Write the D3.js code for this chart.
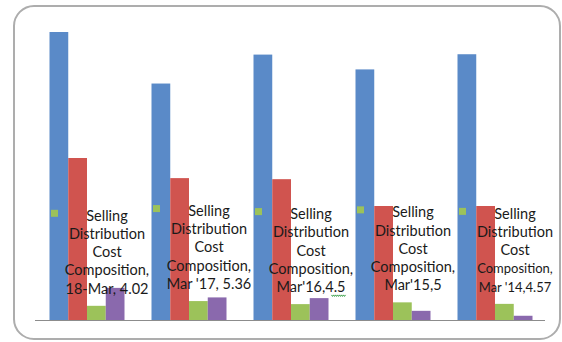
<!DOCTYPE html>
<html>
<head>
<meta charset="utf-8">
<script src="https://cdn.jsdelivr.net/npm/d3@7"></script>
<style>
  html, body { margin: 0; padding: 0; background: #fff; }
  svg { display: block; }
  .lbl { font-family: Lato, "Open Sans", sans-serif; fill: #1a1a1a; }
</style>
</head>
<body>
<svg width="562" height="342"></svg>
<script>
// periods, left to right
const periods = ["18-Mar", "Mar '17", "Mar'16", "Mar'15", "Mar '14"];
const seriesNames = ["Series 1", "Series 2", "Selling Distribution Cost Composition", "Series 4"];

const blueVals   = [81.6, 67.0, 75.2, 71.0, 75.3];
const redVals    = [45.9, 40.2, 39.9, 32.3, 32.3];
const greenVals  = [4.02, 5.36, 4.5, 5, 4.57];
const purpleVals = [9.1, 6.4, 6.2, 2.6, 1.2];

// data label text as shown on the chart
const labelTail = ["18-Mar, 4.02", "Mar '17, 5.36", "Mar'16,4.5", "Mar'15,5", "Mar '14,4.57"];

const colors = ["#5a8ac8", "#d0544f", "#9cc25a", "#8a69ad"];

const svg = d3.select("svg");

// chart frame
svg.append("rect")
  .attr("x", 14).attr("y", 6)
  .attr("width", 546).attr("height", 333)
  .attr("rx", 20).attr("ry", 20)
  .attr("fill", "#fff")
  .attr("stroke", "#adadad")
  .attr("stroke-width", 2);

const plotLeft = 36, plotRight = 546, baseY = 320, topY = 20;

const x0 = d3.scaleBand().domain(periods).range([plotLeft, plotRight]).padding(0);
const x1 = d3.scaleBand().domain(d3.range(4))
  .range([13.5, x0.bandwidth() - 13.5]).padding(0);
const y = d3.scaleLinear().domain([0, 85]).range([baseY, topY]);

const rows = periods.map((p, i) => ({
  period: p,
  vals: [blueVals[i], redVals[i], greenVals[i], purpleVals[i]]
}));

const groups = svg.append("g")
  .selectAll("g")
  .data(rows)
  .join("g")
  .attr("transform", d => `translate(${x0(d.period)},0)`);

groups.selectAll("rect")
  .data(d => d.vals.map((v, k) => ({ v, k })))
  .join("rect")
  .attr("x", d => x1(d.k))
  .attr("y", d => y(d.v))
  .attr("width", x1.bandwidth())
  .attr("height", d => baseY - y(d.v))
  .attr("fill", d => colors[d.k]);

// category axis line
svg.append("line")
  .attr("x1", plotLeft - 1).attr("x2", plotRight - 1)
  .attr("y1", baseY + 0.5).attr("y2", baseY + 0.5)
  .attr("stroke", "#8c8c8c")
  .attr("stroke-width", 1.2);

// data labels for the green series, with legend key
const lineH = 18.2;
rows.forEach((d, i) => {
  const gx = x0(d.period);
  const firstY = y(greenVals[i]) - 90;
  const cx = gx + x0.bandwidth() / 2 + 20;
  svg.append("rect")
    .attr("x", gx + 15).attr("y", firstY - 6)
    .attr("width", 7).attr("height", 7)
    .attr("fill", colors[2]);
  const lines = ["Selling", "Distribution", "Cost", "Composition,", labelTail[i]];
  const t = svg.append("text")
    .attr("class", "lbl")
    .attr("text-anchor", "middle");
  let last;
  lines.forEach((s, j) => {
    last = t.append("tspan")
      .attr("x", cx)
      .attr("y", firstY + 5 + j * lineH)
      .attr("font-size", (i === 4 && j >= 3) ? 13 : 14.5)
      .text(s);
  });
  if (i === 2) {
    // spell-check squiggle under "4.5"
    const w = last.node().getComputedTextLength();
    const endX = cx + w / 2;
    const sy = firstY + 5 + 4 * lineH + 3;
    let path = `M${endX - 14},${sy}`;
    for (let k = 0; k < 7; k++) path += ` l1,1.5 l1,-1.5`;
    svg.append("path").attr("d", path)
      .attr("fill", "none").attr("stroke", "#3aa04a").attr("stroke-width", 1);
  }
});
</script>
</body>
</html>
